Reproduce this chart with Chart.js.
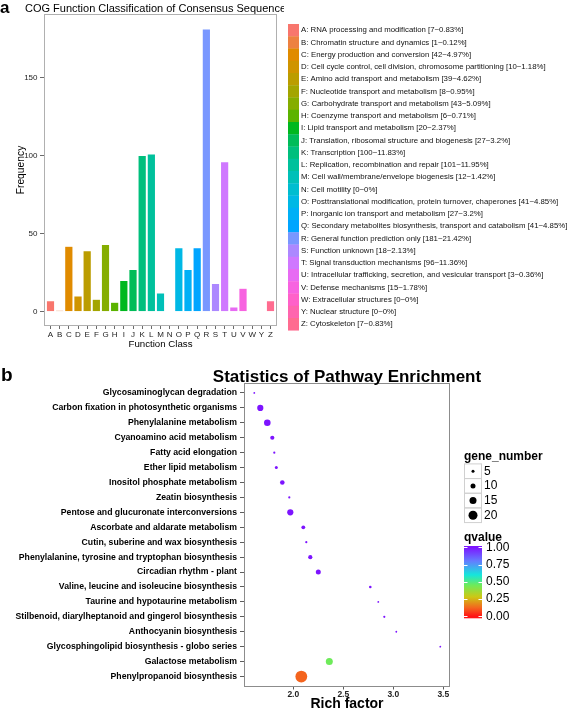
<!DOCTYPE html>
<html>
<head>
<meta charset="utf-8">
<script src="https://cdn.jsdelivr.net/npm/chart.js@4.4.1/dist/chart.umd.min.js"></script>
<style>
  html, body { margin: 0; padding: 0; background: #fff; }
  #wrap { position: relative; width: 567px; height: 711px; }
  canvas { position: absolute; left: 0; }
  #cog { top: 0; width: 567px; height: 352px; }
  #kegg { top: 352px; width: 567px; height: 359px; }
</style>
</head>
<body>
<div id="wrap">
  <canvas id="cog" width="567" height="352"></canvas>
  <canvas id="kegg" width="567" height="359"></canvas>
</div>
<script>
"use strict";

// panel a: COG classes
const cogCodes = ["A", "B", "C", "D", "E", "F", "G", "H", "I", "J", "K", "L", "M",
  "N", "O", "P", "Q", "R", "S", "T", "U", "V", "W", "Y", "Z"];
const cogNames = [
  "RNA processing and modification",
  "Chromatin structure and dynamics",
  "Energy production and conversion",
  "Cell cycle control, cell division, chromosome partitioning",
  "Amino acid transport and metabolism",
  "Nucleotide transport and metabolism",
  "Carbohydrate transport and metabolism",
  "Coenzyme transport and metabolism",
  "Lipid transport and metabolism",
  "Translation, ribosomal structure and biogenesis",
  "Transcription",
  "Replication, recombination and repair",
  "Cell wall/membrane/envelope biogenesis",
  "Cell motility",
  "Posttranslational modification, protein turnover, chaperones",
  "Inorganic ion transport and metabolism",
  "Secondary metabolites biosynthesis, transport and catabolism",
  "General function prediction only",
  "Function unknown",
  "Signal transduction mechanisms",
  "Intracellular trafficking, secretion, and vesicular transport",
  "Defense mechanisms",
  "Extracellular structures",
  "Nuclear structure",
  "Cytoskeleton"
];
const cogCounts = [7, 1, 42, 10, 39, 8, 43, 6, 20, 27, 100, 101, 12, 0, 41, 27, 41, 181, 18, 96, 3, 15, 0, 0, 7];
const cogPercents = ["0.83%", "0.12%", "4.97%", "1.18%", "4.62%", "0.95%", "5.09%", "0.71%", "2.37%", "3.2%",
  "11.83%", "11.95%", "1.42%", "0%", "4.85%", "3.2%", "4.85%", "21.42%", "2.13%", "11.36%",
  "0.36%", "1.78%", "0%", "0%", "0.83%"];
const freqTicks = [0, 50, 100, 150];

// panel b: pathway enrichment
const pathways = [
  "Glycosaminoglycan degradation",
  "Carbon fixation in photosynthetic organisms",
  "Phenylalanine metabolism",
  "Cyanoamino acid metabolism",
  "Fatty acid elongation",
  "Ether lipid metabolism",
  "Inositol phosphate metabolism",
  "Zeatin biosynthesis",
  "Pentose and glucuronate interconversions",
  "Ascorbate and aldarate metabolism",
  "Cutin, suberine and wax biosynthesis",
  "Phenylalanine, tyrosine and tryptophan biosynthesis",
  "Circadian rhythm - plant",
  "Valine, leucine and isoleucine biosynthesis",
  "Taurine and hypotaurine metabolism",
  "Stilbenoid, diarylheptanoid and gingerol biosynthesis",
  "Anthocyanin biosynthesis",
  "Glycosphingolipid biosynthesis - globo series",
  "Galactose metabolism",
  "Phenylpropanoid biosynthesis"
];
const richFactor = [1.61, 1.67, 1.74, 1.79, 1.81, 1.83, 1.89, 1.96, 1.97, 2.10,
  2.13, 2.17, 2.25, 2.77, 2.85, 2.91, 3.03, 3.47, 2.36, 2.08];
const geneNumber = [2, 13, 14, 8, 3, 5, 9, 3, 13, 7, 3, 8, 10, 4, 2, 3, 2, 2, 15, 27];
const qValue = [1, 1, 1, 1, 1, 1, 1, 1, 1, 1, 1, 1, 1, 1, 1, 1, 1, 1, 0.45, 0.12];
const richTicks = [2.0, 2.5, 3.0, 3.5];
const sizeBreaks = [5, 10, 15, 20];
const qBreaks = [1, 0.75, 0.5, 0.25, 0];

const FONT = "'Liberation Sans', Arial, Helvetica, sans-serif";

// ggplot-like hue colours
function hcl(h, c, l) {
  const hr = h * Math.PI / 180;
  const u = c * Math.cos(hr), v = c * Math.sin(hr);
  const Xn = 95.047, Yn = 100, Zn = 108.883;
  const Y = l > 8 ? Yn * Math.pow((l + 16) / 116, 3) : Yn * l / 903.3;
  const d = Xn + 15 * Yn + 3 * Zn;
  const up = u / (13 * l) + 4 * Xn / d;
  const vp = v / (13 * l) + 9 * Yn / d;
  const X = Y * 9 * up / (4 * vp);
  const Z = Y * (12 - 3 * up - 20 * vp) / (4 * vp);
  const x = X / 100, y = Y / 100, z = Z / 100;
  const lin = [
    3.240479 * x - 1.537150 * y - 0.498535 * z,
    -0.969256 * x + 1.875992 * y + 0.041556 * z,
    0.055648 * x - 0.204043 * y + 1.057311 * z
  ];
  const gam = t => t > 0.0031308 ? 1.055 * Math.pow(t, 1 / 2.4) - 0.055 : 12.92 * t;
  return "rgb(" + lin.map(t => Math.round(255 * Math.min(1, Math.max(0, gam(t))))).join(",") + ")";
}
const cogColors = cogCodes.map((c, i) => hcl(15 + i * 360 / 25, 100, 65));

// qvalue rainbow
const qStops = [
  [0, [255, 20, 20]], [0.12, [244, 100, 30]], [0.28, [205, 200, 20]],
  [0.45, [110, 235, 90]], [0.6, [20, 230, 220]], [0.8, [100, 125, 255]], [1, [125, 20, 255]]
];
function qColor(q) {
  for (let i = 1; i < qStops.length; i++) {
    if (q <= qStops[i][0]) {
      const [q0, c0] = qStops[i - 1], [q1, c1] = qStops[i];
      const t = (q - q0) / (q1 - q0);
      return "rgb(" + c0.map((v, k) => Math.round(v + (c1[k] - v) * t)).join(",") + ")";
    }
  }
  return "rgb(" + qStops[qStops.length - 1][1].join(",") + ")";
}
const sizeR = n => 0.5 + 0.2 * n;

const frame = color => ({
  id: "frame",
  afterDatasetsDraw(chart) {
    const {ctx, chartArea: a} = chart;
    ctx.save();
    ctx.strokeStyle = color;
    ctx.lineWidth = 1;
    ctx.strokeRect(Math.round(a.left) - 0.5, Math.round(a.top) - 0.5,
      Math.round(a.right - a.left) + 1, Math.round(a.bottom - a.top) + 1);
    ctx.restore();
  }
});

const cogHeader = {
  id: "cogHeader",
  afterDraw(chart) {
    const {ctx} = chart;
    ctx.save();
    ctx.fillStyle = "#000";
    ctx.textBaseline = "alphabetic";
    ctx.font = `bold 17px ${FONT}`;
    ctx.fillText("a", 0, 12.5);
    ctx.beginPath();
    ctx.rect(0, 0, 284, 18);
    ctx.clip();
    ctx.font = `11px ${FONT}`;
    ctx.fillText("COG Function Classification of Consensus Sequence", 25, 12);
    ctx.restore();
  }
};

const cogLegend = {
  id: "cogLegend",
  afterDraw(chart) {
    const {ctx, chartArea} = chart;
    const x0 = chartArea.right + 12, top = 24, h = 12.25;
    ctx.save();
    ctx.font = `7.8px ${FONT}`;
    ctx.textBaseline = "middle";
    cogCodes.forEach((code, i) => {
      const y = top + i * h;
      ctx.fillStyle = cogColors[i];
      ctx.fillRect(x0, y, 11, h + 0.3);
      ctx.fillStyle = "#111";
      ctx.fillText(`${code}: ${cogNames[i]} [${cogCounts[i]}~${cogPercents[i]}]`, x0 + 13, y + h / 2);
    });
    ctx.restore();
  }
};

const keggHeader = {
  id: "keggHeader",
  afterDraw(chart) {
    const {ctx, chartArea} = chart;
    ctx.save();
    ctx.fillStyle = "#000";
    ctx.textBaseline = "alphabetic";
    ctx.font = `bold 19px ${FONT}`;
    ctx.fillText("b", 1, 29);
    ctx.font = `bold 17px ${FONT}`;
    ctx.textAlign = "center";
    ctx.fillText("Statistics of Pathway Enrichment", (chartArea.left + chartArea.right) / 2, 30);
    ctx.restore();
  }
};

const keggLegend = {
  id: "keggLegend",
  afterDraw(chart) {
    const {ctx, chartArea} = chart;
    const x0 = chartArea.right + 15;
    ctx.save();
    ctx.textBaseline = "middle";
    ctx.fillStyle = "#000";
    ctx.font = `bold 12px ${FONT}`;
    ctx.fillText("gene_number", x0, 104.5);

    // size keys
    const kh = 14.67, ky = 111.4;
    sizeBreaks.forEach((n, i) => {
      const y = ky + i * kh;
      ctx.strokeStyle = "#d0d0d0";
      ctx.lineWidth = 1;
      ctx.strokeRect(x0 + 0.5, y + 0.5, 17, kh);
      ctx.fillStyle = "#000";
      ctx.beginPath();
      ctx.arc(x0 + 9, y + kh / 2 + 0.5, sizeR(n), 0, Math.PI * 2);
      ctx.fill();
      ctx.font = `12px ${FONT}`;
      ctx.fillText(String(n), x0 + 20, y + kh / 2 + 0.5);
    });

    // colour bar
    ctx.font = `bold 12px ${FONT}`;
    ctx.fillText("qvalue", x0, 186);
    const barTop = 194, barBot = 266.3, q1y = 195.3, q0y = 264.2;
    const grad = ctx.createLinearGradient(0, q1y, 0, q0y);
    qStops.forEach(([q]) => grad.addColorStop(1 - q, qColor(q)));
    ctx.fillStyle = grad;
    ctx.fillRect(x0, barTop, 18, barBot - barTop);
    ctx.font = `12px ${FONT}`;
    qBreaks.forEach(q => {
      const y = q1y + (1 - q) * (q0y - q1y);
      ctx.strokeStyle = "#fff";
      ctx.beginPath();
      ctx.moveTo(x0, Math.round(y) + 0.5); ctx.lineTo(x0 + 3.5, Math.round(y) + 0.5);
      ctx.moveTo(x0 + 14.5, Math.round(y) + 0.5); ctx.lineTo(x0 + 18, Math.round(y) + 0.5);
      ctx.stroke();
      ctx.fillStyle = "#000";
      ctx.fillText(q.toFixed(2), x0 + 22, y);
    });
    ctx.restore();
  }
};

new Chart(document.getElementById("cog"), {
  type: "bar",
  data: {
    datasets: [{
      data: cogCounts.map((v, i) => ({x: i, y: v})),
      backgroundColor: cogColors,
      borderColor: "#ffffff",
      borderWidth: 0.5,
      barPercentage: 0.9,
      categoryPercentage: 1
    }]
  },
  options: {
    responsive: false,
    animation: false,
    events: [],
    layout: {padding: {top: 15, right: 291, bottom: 0, left: 0}},
    plugins: {legend: {display: false}, tooltip: {enabled: false}},
    scales: {
      x: {
        type: "linear", min: -0.6, max: 24.6, offset: false,
        afterBuildTicks: s => { s.ticks = cogCodes.map((c, i) => ({value: i})); },
        ticks: {callback: v => cogCodes[v], autoSkip: false, maxRotation: 0, padding: 1,
          color: "#222", font: {family: FONT, size: 8}},
        grid: {drawOnChartArea: false, offset: false, tickLength: 4, tickColor: "#444", tickWidth: 0.8},
        border: {display: false},
        title: {display: true, text: "Function Class", color: "#000",
          font: {family: FONT, size: 9.7}, padding: {top: 0, bottom: 2}},
        afterFit: s => { s.height = 27; }
      },
      y: {
        min: -8.5, max: 190,
        afterBuildTicks: s => { s.ticks = freqTicks.map(v => ({value: v})); },
        ticks: {padding: 2.5, color: "#222", font: {family: FONT, size: 8}},
        grid: {drawOnChartArea: false, tickLength: 5, tickColor: "#444", tickWidth: 0.8},
        border: {display: false},
        title: {display: true, text: "Frequency", color: "#000",
          font: {family: FONT, size: 10.3}, padding: {top: 15.2, bottom: 0}},
        afterFit: s => { s.width = 45; }
      }
    }
  },
  plugins: [frame("#b0b0b0"), cogHeader, cogLegend]
});

new Chart(document.getElementById("kegg"), {
  type: "bubble",
  data: {
    datasets: [{
      data: pathways.map((p, i) => ({x: richFactor[i], y: i, r: sizeR(geneNumber[i])})),
      backgroundColor: qValue.map(qColor),
      borderWidth: 0
    }]
  },
  options: {
    responsive: false,
    animation: false,
    events: [],
    layout: {padding: {top: 32, right: 118, bottom: 0, left: 0}},
    plugins: {legend: {display: false}, tooltip: {enabled: false}},
    scales: {
      x: {
        type: "linear", min: 1.517, max: 3.557,
        afterBuildTicks: s => { s.ticks = richTicks.map(v => ({value: v})); },
        ticks: {callback: v => v.toFixed(1), padding: 0.5, color: "#222",
          font: {family: FONT, size: 8.5, weight: "bold"}},
        grid: {drawOnChartArea: false, tickLength: 4, tickColor: "#333", tickWidth: 0.8},
        border: {display: false},
        title: {display: true, text: "Rich factor", color: "#000",
          font: {family: FONT, size: 14, weight: "bold", lineHeight: 1}, padding: {top: 0, bottom: 0}},
        afterFit: s => { s.height = 25.5; }
      },
      y: {
        type: "linear", min: -0.6, max: 19.6, reverse: true,
        afterBuildTicks: s => { s.ticks = pathways.map((p, i) => ({value: i})); },
        ticks: {callback: v => pathways[v], autoSkip: false, padding: 3, color: "#000",
          font: {family: FONT, size: 8.7, weight: "bold"}},
        grid: {drawOnChartArea: false, tickLength: 5, tickColor: "#333", tickWidth: 0.8},
        border: {display: false},
        afterFit: s => { s.width = 245; }
      }
    }
  },
  plugins: [frame("#8c8c8c"), keggHeader, keggLegend]
});
</script>
</body>
</html>
